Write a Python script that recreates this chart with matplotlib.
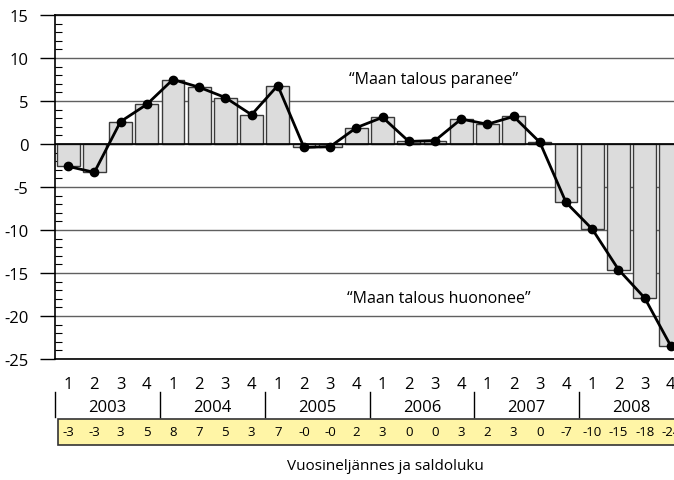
import numpy as np
import matplotlib.pyplot as plt
from matplotlib.patches import Rectangle
from matplotlib.ticker import MultipleLocator

plt.rcParams['font.family'] = ['Open Sans', 'DejaVu Sans']
plt.rcParams['axes.unicode_minus'] = False

# saldoluku per quarter, 2003 Q1 .. 2008 Q4
years = ['2003', '2004', '2005', '2006', '2007', '2008']
quarters = ['1', '2', '3', '4']
saldo = [-2.6, -3.3, 2.6, 4.6,
         7.5, 6.6, 5.4, 3.4,
         6.8, -0.4, -0.3, 1.9,
         3.1, 0.3, 0.4, 2.9,
         2.3, 3.2, 0.2, -6.8,
         -9.9, -14.6, -17.9, -23.5]
table_labels = ['%.0f' % v for v in saldo]

fig = plt.figure(figsize=(6.74, 4.81), dpi=100)
# plot area runs past the right edge, like the original crop
ax = fig.add_axes([55 / 674, 1 - 360 / 481, 629 / 674, 344 / 481])

x = np.arange(len(saldo))
ax.bar(x, saldo, width=0.87, color='#dcdcdc', edgecolor='#3a3a3a', linewidth=1, zorder=2)
ax.plot(x, saldo, color='black', lw=2, marker='o', ms=6, zorder=3)
ax.axhline(0, color='black', lw=1.2, zorder=2.5)

ax.set_xlim(-0.5, len(saldo) - 0.5)
ax.set_ylim(-25, 15)
ax.yaxis.set_major_locator(MultipleLocator(5))
ax.yaxis.set_minor_locator(MultipleLocator(1))
ax.tick_params(axis='y', which='major', direction='out', length=11, width=1, pad=8, labelsize=12)
ax.tick_params(axis='y', which='minor', direction='in', length=5, width=0.8)
ax.set_xticks([])
ax.yaxis.grid(True, color='#606060', lw=1, zorder=1)
ax.set_axisbelow(True)
ax.spines['right'].set_visible(False)
for s in ['top', 'bottom', 'left']:
    ax.spines[s].set_linewidth(1.2)

ax.text(13.95, 7.6, '\u201cMaan talous paranee\u201d', ha='center', va='center', fontsize=11.5)
ax.text(14.15, -17.9, '\u201cMaan talous huononee\u201d', ha='center', va='center', fontsize=11.5)

trans = ax.get_xaxis_transform()
for i in x:
    ax.text(i, -0.073, quarters[i % 4], ha='center', va='center', fontsize=12,
            transform=trans, clip_on=False)
for j, yr in enumerate(years):
    ax.text(j * 4 + 1.5, -0.14, yr, ha='center', va='center', fontsize=12,
            transform=trans, clip_on=False)
    ax.plot([j * 4 - 0.5] * 2, [-0.096, -0.169], color='black', lw=1,
            transform=trans, clip_on=False)

ax.add_patch(Rectangle((-0.38, -0.25), 24, 0.076, transform=trans, clip_on=False,
                       facecolor='#fff5a6', edgecolor='#333333', lw=1.2))
for i in x:
    ax.text(i, -0.212, table_labels[i], ha='center', va='center', fontsize=9.5,
            transform=trans, clip_on=False)

ax.text(12.1, -0.31, 'Vuosineljännes ja saldoluku', ha='center', va='center',
        fontsize=11, transform=trans, clip_on=False)

fig.savefig('out.png', dpi=100)
